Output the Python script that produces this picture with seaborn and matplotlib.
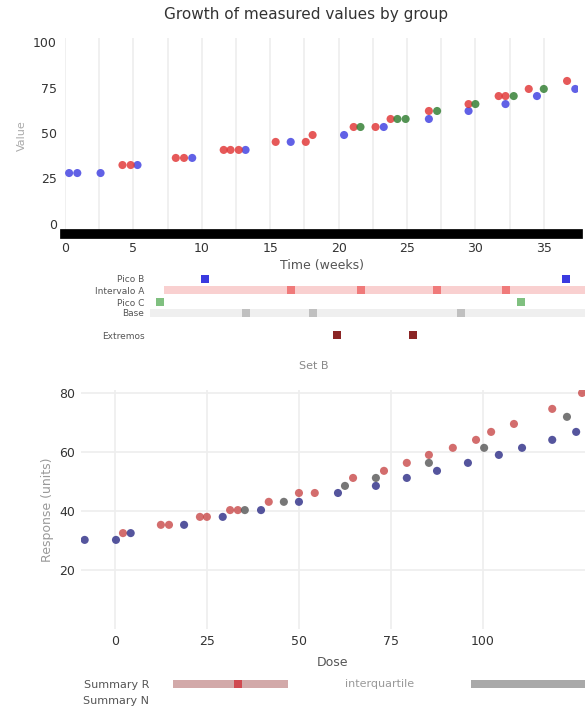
import matplotlib
matplotlib.use("Agg")
import matplotlib.pyplot as plt
import seaborn as sns
import pandas as pd

# ---- painel superior: tres series ----
azul_x = [0.3, 0.9, 2.6, 5.3, 9.3, 13.2, 16.5, 20.4, 23.3, 26.6, 29.5, 32.2, 34.5, 37.3]
azul_y = [28.0, 28.0, 28.0, 32.4, 36.3, 40.7, 45.1, 48.9, 53.3, 57.7, 62.1, 65.9, 70.3, 74.2]
verm_x = [4.2, 4.8, 8.1, 8.7, 11.6, 12.1, 12.7, 15.4, 17.6, 18.1, 21.1, 22.7, 23.8, 26.6,
          29.5, 31.7, 32.2, 33.9, 36.7]
verm_y = [32.4, 32.4, 36.3, 36.3, 40.7, 40.7, 40.7, 45.1, 45.1, 48.9, 53.3, 53.3, 57.7, 62.1,
          65.9, 70.3, 70.3, 74.2, 78.6]
verde_x = [21.6, 24.3, 24.9, 27.2, 30.0, 32.8, 35.0]
verde_y = [53.3, 57.7, 57.7, 62.1, 65.9, 70.3, 74.2]

# ---- faixa abaixo do painel superior ----
faixa1_nomes = ["Pico B", "Intervalo A", "Pico C", "Base", "Extremos"]
faixa1_inicio = [None, 7.2, None, 6.2, None]
faixa1_fim = [None, 38.5, None, 38.5, None]
faixa1_marcas = [[10.2, 36.6], [16.5, 21.6, 27.2, 32.2], [6.9, 33.3], [13.2, 18.1, 28.9], [19.9, 25.4]]

# ---- painel inferior: duas series + cinza ----
r_x = [2.2, 12.5, 14.7, 23.1, 25.0, 31.3, 33.4, 41.8, 50.0, 54.3, 64.7, 73.1, 79.3, 85.3,
       91.8, 98.1, 102.2, 108.4, 118.8, 126.9]
r_y = [32.5, 35.3, 35.3, 38.0, 38.0, 40.3, 40.3, 43.1, 46.1, 46.1, 51.2, 53.6, 56.3, 59.0,
       61.4, 64.1, 66.8, 69.5, 74.6, 80.0]
n_x = [-8.2, 0.3, 4.3, 18.8, 29.3, 39.7, 50.0, 60.6, 70.9, 79.3, 87.5, 95.9, 104.3, 110.6,
       118.8, 125.3]
n_y = [30.2, 30.2, 32.5, 35.3, 38.0, 40.3, 43.1, 46.1, 48.5, 51.2, 53.6, 56.3, 59.0, 61.4,
       64.1, 66.8]
c_x = [35.3, 45.9, 62.5, 70.9, 85.3, 100.3, 122.8]
c_y = [40.3, 43.1, 48.5, 51.2, 56.3, 61.4, 71.9]

# ---- faixa final ----
faixa2_inicio = [15.7, 96.7]
faixa2_fim = [46.9, 128.0]
faixa2_mediana = 33.3

sns.set_theme(style="white")
plt.rcParams['font.family'] = ['DejaVu Sans']

W, H = 585, 708
fig = plt.figure(figsize=(W / 100, H / 100), dpi=100)


def rect(x0, y0, x1, y1):
    return [x0 / W, 1 - y1 / H, (x1 - x0) / W, (y1 - y0) / H]


fig.text(306 / W, 1 - 15 / H, "Growth of measured values by group",
         ha="center", va="center", fontsize=11, color="#333333")

# painel superior
ax1 = fig.add_axes(rect(65, 38, 578, 234))
df1 = pd.concat([
    pd.DataFrame({"x": azul_x, "y": azul_y, "grupo": "B"}),
    pd.DataFrame({"x": verm_x, "y": verm_y, "grupo": "A"}),
    pd.DataFrame({"x": verde_x, "y": verde_y, "grupo": "C"}),
])
sns.scatterplot(data=df1, x="x", y="y", hue="grupo",
                palette={"A": "#e03030", "B": "#3a3ae0", "C": "#2a7a2a"},
                s=34, alpha=0.8, linewidth=0, legend=False, ax=ax1)
ax1.set_xlim(0, 37.5)
ax1.set_ylim(-5.5, 102.2)
ax1.set_xticks(range(0, 36, 5))
ax1.set_xticks([2.5 + 5 * i for i in range(7)], minor=True)
ax1.set_yticks([0, 25, 50, 75, 100])
ax1.grid(axis="x", which="both", color="#eeeeee", lw=1.2)
for s in ["top", "right", "left"]:
    ax1.spines[s].set_visible(False)
ax1.spines["bottom"].set_linewidth(7)
ax1.spines["bottom"].set_color("black")
ax1.tick_params(axis="both", labelsize=9, colors="#333333", length=0, pad=6)
ax1.set_xlabel("Time (weeks)", fontsize=9, color="#555555", labelpad=3)
ax1.set_ylabel("Value", fontsize=8, color="#aaaaaa")

# faixa 1
axf1 = fig.add_axes(rect(150, 272, 585, 342))
linhas1 = [0.7, 1.8, 3.0, 4.1, 6.3]
cores_faixa1 = ["#f9d0d0", "#f9d0d0", "#f0f0f0", "#efefef", "#f0f0f0"]
cores_marca1 = ["#3a3ae0", "#f07a7a", "#80c080", "#c0c0c0", "#8b2525"]
for i, nome in enumerate(faixa1_nomes):
    if faixa1_inicio[i] is not None:
        axf1.barh(linhas1[i], faixa1_fim[i] - faixa1_inicio[i], left=faixa1_inicio[i],
                  height=0.8, color=cores_faixa1[i], linewidth=0)
    sns.scatterplot(x=faixa1_marcas[i], y=[linhas1[i]] * len(faixa1_marcas[i]),
                    color=cores_marca1[i], marker="s", s=40, linewidth=0, ax=axf1)
axf1.set_xlim(6.2, 38.0)
axf1.set_ylim(7, 0)
axf1.set_yticks(linhas1)
axf1.set_yticklabels(faixa1_nomes, fontsize=6.5, color="#555555")
axf1.set_xticks([])
axf1.tick_params(axis="y", length=0, pad=4)
for s in axf1.spines.values():
    s.set_visible(False)

# painel inferior
fig.text(314 / W, 1 - 366 / H, "Set B", ha="center", va="center", fontsize=8, color="#888888")
ax2 = fig.add_axes(rect(81, 390, 585, 629))
df2 = pd.concat([
    pd.DataFrame({"x": r_x, "y": r_y, "grupo": "R"}),
    pd.DataFrame({"x": n_x, "y": n_y, "grupo": "N"}),
    pd.DataFrame({"x": c_x, "y": c_y, "grupo": "C"}),
])
sns.scatterplot(data=df2, x="x", y="y", hue="grupo",
                palette={"R": "#c84848", "N": "#2a2a85", "C": "#555555"},
                s=34, alpha=0.8, linewidth=0, legend=False, ax=ax2)
ax2.set_xlim(-9.2, 127.7)
ax2.set_ylim(0, 81)
ax2.set_xticks([0, 25, 50, 75, 100])
ax2.set_yticks([20, 40, 60, 80])
ax2.grid(True, color="#eeeeee", lw=1.2)
for s in ax2.spines.values():
    s.set_visible(False)
ax2.tick_params(axis="both", labelsize=9, colors="#333333", length=0, pad=4)
ax2.set_xlabel("Dose", fontsize=9, color="#555555", labelpad=6)
ax2.set_ylabel("Response (units)", fontsize=9, color="#999999")

# faixa 2
axf2 = fig.add_axes(rect(155, 675, 585, 708))
axf2.barh(0, faixa2_fim[0] - faixa2_inicio[0], left=faixa2_inicio[0], height=0.8,
          color="#d2a9a9", linewidth=0)
axf2.barh(0, faixa2_fim[1] - faixa2_inicio[1], left=faixa2_inicio[1], height=0.8,
          color="#a9a9a9", linewidth=0)
sns.scatterplot(x=[faixa2_mediana], y=[0], color="#d04a50", marker="s", s=40,
                linewidth=0, ax=axf2)
axf2.text(72, 0, "interquartile", ha="center", va="center", fontsize=8, color="#999999")
axf2.set_xlim(-9.2 + (155 - 81) / 3.69, 127.7)
axf2.set_ylim(2.4, -0.9)
axf2.set_yticks([0, 1.6])
axf2.set_yticklabels(["Summary R", "Summary N"], fontsize=8, color="#555555")
axf2.set_xticks([])
axf2.tick_params(axis="y", length=0, pad=4)
for s in axf2.spines.values():
    s.set_visible(False)

fig.savefig("out.png", dpi=100)
